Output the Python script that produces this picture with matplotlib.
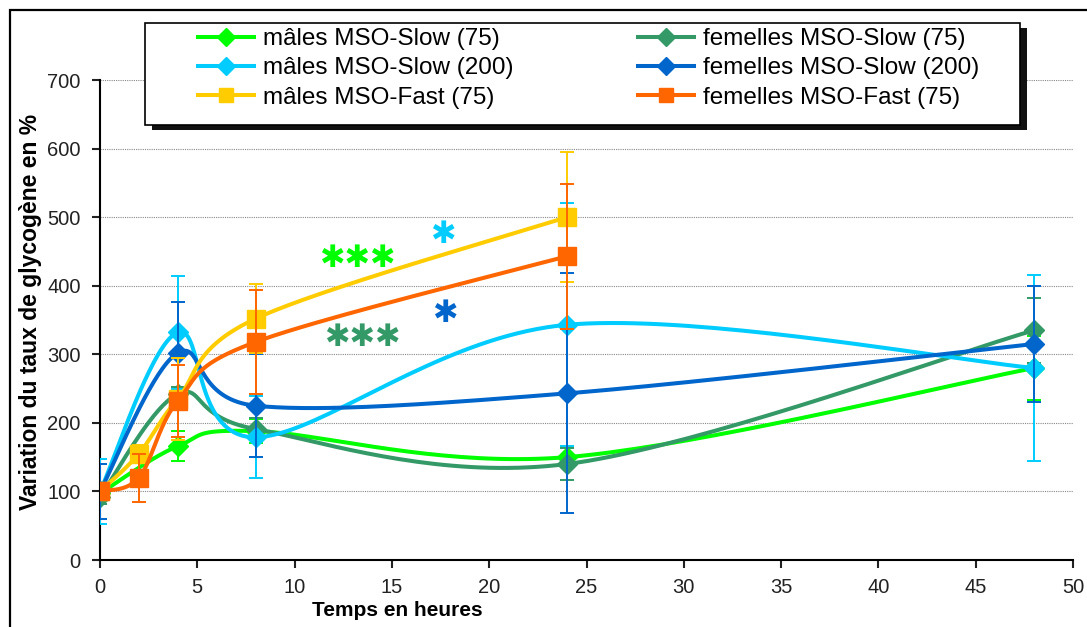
import numpy as np
import matplotlib.pyplot as plt
from matplotlib import font_manager
from matplotlib.patches import Rectangle
from matplotlib.lines import Line2D

# --- data ---
t_slow = [0, 4, 8, 24, 48]
t_fast = [0, 2, 4, 8, 24]

m_slow75 = [97, 166, 188, 150, 280]
m_slow75_err = [10, 22, 18, 15, 47]
f_slow75 = [92, 242, 191, 140, 335]
f_slow75_err = [10, 10, 16, 23, 47]
m_slow200 = [100, 332, 179, 343, 280]
m_slow200_err = [47, 82, 60, 177, 135]
f_slow200 = [100, 302, 225, 243, 315]
f_slow200_err = [40, 74, 75, 175, 85]
m_fast75 = [100, 155, 235, 352, 500]
m_fast75_err = [6, 12, 60, 50, 95]
f_fast75 = [100, 120, 232, 318, 443]
f_fast75_err = [10, 35, 52, 76, 106]

labels = ["mâles MSO-Slow (75)", "femelles MSO-Slow (75)",
          "mâles MSO-Slow (200)", "femelles MSO-Slow (200)",
          "mâles MSO-Fast (75)", "femelles MSO-Fast (75)"]
colors = ["#00FF00", "#339966", "#00CCFF", "#0066CC", "#FFCC00", "#FF6600"]

# significance marks: (x, y, text, colour)
stars = [(13.2, 440, "***", "#00FF00"), (17.6, 474, "*", "#00CCFF"),
         (17.7, 360, "*", "#0066CC"), (13.5, 325, "***", "#339966")]

names = {f.name for f in font_manager.fontManager.ttflist}
FONT = "Liberation Sans" if "Liberation Sans" in names else "DejaVu Sans"
plt.rcParams['font.family'] = FONT

W, H = 1087, 627


def excel_smooth(x, y, n=40):
    # bezier smoothing like Excel "smoothed line"
    P = np.c_[x, y].astype(float)
    out = [P[0]]
    for i in range(len(P) - 1):
        p0 = P[i - 1] if i > 0 else P[i]
        p3 = P[i + 2] if i + 2 < len(P) else P[i + 1]
        c1 = P[i] + (P[i + 1] - p0) / 6
        c2 = P[i + 1] - (p3 - P[i]) / 6
        s = np.linspace(0, 1, n)[1:, None]
        seg = ((1 - s)**3 * P[i] + 3 * (1 - s)**2 * s * c1
               + 3 * (1 - s) * s**2 * c2 + s**3 * P[i + 1])
        out.extend(seg)
    out = np.array(out)
    return out[:, 0], out[:, 1]


def px_rect(x0, y0, x1, y1, **kw):
    # rectangle given in pixel coords (origin top left)
    return Rectangle((x0 / W, 1 - y1 / H), (x1 - x0) / W, (y1 - y0) / H,
                     transform=fig.transFigure, **kw)


fig = plt.figure(figsize=(W / 100, H / 100), dpi=100)
ax = fig.add_axes([100 / W, 1 - 560 / H, 973 / W, 480 / H])

series = [(t_slow, m_slow75, m_slow75_err, 'D'),
          (t_slow, f_slow75, f_slow75_err, 'D'),
          (t_slow, m_slow200, m_slow200_err, 'D'),
          (t_slow, f_slow200, f_slow200_err, 'D'),
          (t_fast, m_fast75, m_fast75_err, 's'),
          (t_fast, f_fast75, f_fast75_err, 's')]

handles = []
for k, (x, y, e, mk) in enumerate(series):
    c = colors[k]
    z = 3 + k
    ax.errorbar(x, y, yerr=e, fmt='none', ecolor=c, elinewidth=1.4,
                capsize=5, capthick=1.4, zorder=z)
    xs, ys = excel_smooth(x, y)
    ax.plot(xs, ys, color=c, lw=2.9, zorder=z, solid_capstyle='round')
    ms = 10 if mk == 'D' else 13
    ax.plot(x, y, mk, color=c, ms=ms, mec=c, zorder=z)
    handles.append(Line2D([], [], color=c, lw=2.9, marker=mk,
                          ms=9 if mk == 'D' else 10, label=labels[k]))

for sx, sy, txt, c in stars:
    ax.text(sx, sy, txt.replace("*", "\u2731"), color=c, fontsize=22,
            ha='center', va='center', family='DejaVu Sans', zorder=20)

ax.set_xlim(0, 50)
ax.set_ylim(0, 700)
ax.set_xticks(range(0, 51, 5))
ax.set_yticks(range(0, 701, 100))
ax.grid(axis='y', color='#888888', ls=(0, (1, 1)), lw=0.8)
for s in ['top', 'right']:
    ax.spines[s].set_visible(False)
ax.spines['left'].set_linewidth(1.5)
ax.spines['bottom'].set_linewidth(1.5)
ax.tick_params(axis='both', direction='out', length=6, width=1.5,
               labelsize=14.5, colors='#222222')
ax.tick_params(axis='x', pad=7)
ax.tick_params(axis='y', pad=8)

fig.text(397 / W, 1 - 611 / H, "Temps en heures", fontsize=15,
         fontweight='bold', ha='center', va='center')
fig.text(31 / W, 1 - 312 / H, "Variation du taux de glycogène en %",
         fontsize=16.5, fontweight='bold', rotation=90,
         ha='center', va='center')

# legend frame with shadow, drawn by hand
fig.patches.append(px_rect(152, 28, 1027, 130, facecolor='#111111',
                           edgecolor='none', zorder=28))
fig.patches.append(px_rect(145, 23, 1020, 125, facecolor='white',
                           edgecolor='black', lw=1.2, zorder=29))

order = [0, 2, 4, 1, 3, 5]
leg = fig.legend([handles[i] for i in order], [labels[i] for i in order],
                 ncol=2, loc='upper left',
                 bbox_to_anchor=(198 / W, 1 - 28 / H),
                 fontsize=17.5, frameon=False, handlelength=2.3,
                 columnspacing=5.1, borderpad=0, labelspacing=0.3,
                 handletextpad=0.38, borderaxespad=0)
leg.set_zorder(30)

# outer chart frame
fig.patches.append(Rectangle((10 / W, -0.05), 1.2, 1 - 10 / H + 0.05,
                             transform=fig.transFigure, fill=False,
                             edgecolor='black', lw=1.6, zorder=0))

fig.savefig('out.png', dpi=100)
